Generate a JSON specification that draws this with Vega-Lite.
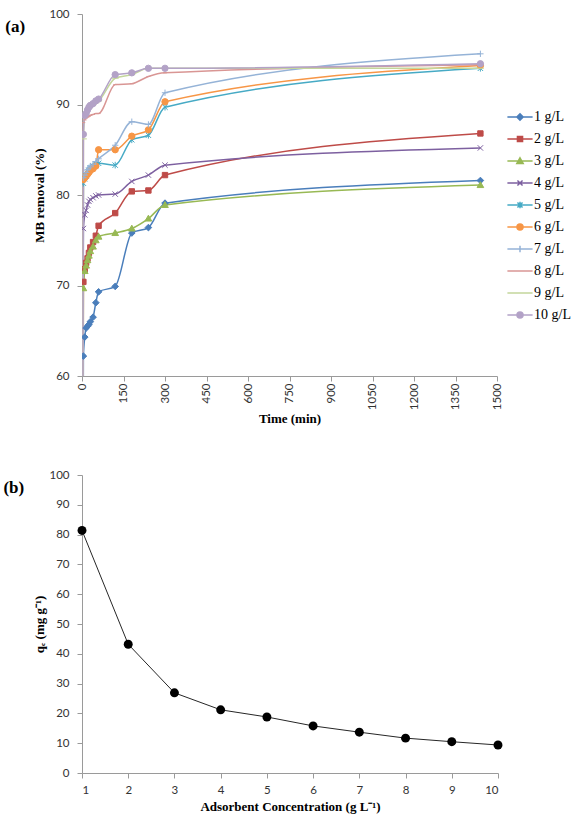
{
  "$schema": "https://vega.github.io/schema/vega-lite/v6.json",
  "background": "white",
  "padding": {"left": 3, "top": 8, "right": 0, "bottom": 0},
  "config": {
    "view": {"stroke": null},
    "axis": {
      "grid": false,
      "domainColor": "#9a9a9a",
      "tickColor": "#9a9a9a",
      "tickSize": 5,
      "labelFont": "Lato",
      "labelFontSize": 11.5,
      "labelColor": "#333333",
      "labelPadding": 8,
      "titleFont": "Liberation Serif",
      "titleFontWeight": "bold",
      "titleFontSize": 13,
      "titleColor": "#000000"
    },
    "legend": {
      "title": null,
      "orient": "none",
      "padding": 0,
      "labelFont": "Liberation Serif",
      "labelFontSize": 14,
      "labelColor": "#000000",
      "symbolStrokeWidth": 1.5,
      "symbolOpacity": 1
    },
    "title": {"font": "Liberation Serif", "fontWeight": "bold", "fontSize": 17, "color": "#000000"},
    "concat": {"spacing": 43}
  },
  "datasets": {
    "kinetics": [
      {"t": 0, "v": 0, "s": "1 g/L"}, {"t": 5, "v": 62.2, "s": "1 g/L"}, {"t": 10, "v": 64.3, "s": "1 g/L"}, {"t": 15, "v": 65.3, "s": "1 g/L"}, {"t": 20, "v": 65.5, "s": "1 g/L"}, {"t": 25, "v": 65.7, "s": "1 g/L"}, {"t": 30, "v": 66.0, "s": "1 g/L"}, {"t": 40, "v": 66.5, "s": "1 g/L"}, {"t": 50, "v": 68.1, "s": "1 g/L"}, {"t": 60, "v": 69.3, "s": "1 g/L"}, {"t": 120, "v": 69.9, "s": "1 g/L"}, {"t": 180, "v": 75.8, "s": "1 g/L"}, {"t": 240, "v": 76.4, "s": "1 g/L"}, {"t": 300, "v": 79.1, "s": "1 g/L"}, {"t": 1440, "v": 81.6, "s": "1 g/L"},
      {"t": 0, "v": 0, "s": "2 g/L"}, {"t": 5, "v": 70.4, "s": "2 g/L"}, {"t": 10, "v": 71.8, "s": "2 g/L"}, {"t": 15, "v": 72.5, "s": "2 g/L"}, {"t": 20, "v": 73.0, "s": "2 g/L"}, {"t": 25, "v": 73.6, "s": "2 g/L"}, {"t": 30, "v": 74.2, "s": "2 g/L"}, {"t": 40, "v": 74.8, "s": "2 g/L"}, {"t": 50, "v": 75.5, "s": "2 g/L"}, {"t": 60, "v": 76.6, "s": "2 g/L"}, {"t": 120, "v": 78.0, "s": "2 g/L"}, {"t": 180, "v": 80.4, "s": "2 g/L"}, {"t": 240, "v": 80.5, "s": "2 g/L"}, {"t": 300, "v": 82.2, "s": "2 g/L"}, {"t": 1440, "v": 86.8, "s": "2 g/L"},
      {"t": 0, "v": 0, "s": "3 g/L"}, {"t": 5, "v": 69.7, "s": "3 g/L"}, {"t": 10, "v": 71.6, "s": "3 g/L"}, {"t": 15, "v": 72.2, "s": "3 g/L"}, {"t": 20, "v": 72.8, "s": "3 g/L"}, {"t": 25, "v": 73.3, "s": "3 g/L"}, {"t": 30, "v": 73.8, "s": "3 g/L"}, {"t": 40, "v": 74.3, "s": "3 g/L"}, {"t": 50, "v": 75.0, "s": "3 g/L"}, {"t": 60, "v": 75.4, "s": "3 g/L"}, {"t": 120, "v": 75.8, "s": "3 g/L"}, {"t": 180, "v": 76.3, "s": "3 g/L"}, {"t": 240, "v": 77.4, "s": "3 g/L"}, {"t": 300, "v": 78.9, "s": "3 g/L"}, {"t": 1440, "v": 81.1, "s": "3 g/L"},
      {"t": 0, "v": 0, "s": "4 g/L"}, {"t": 5, "v": 76.3, "s": "4 g/L"}, {"t": 10, "v": 77.8, "s": "4 g/L"}, {"t": 15, "v": 78.3, "s": "4 g/L"}, {"t": 20, "v": 78.9, "s": "4 g/L"}, {"t": 25, "v": 79.3, "s": "4 g/L"}, {"t": 30, "v": 79.5, "s": "4 g/L"}, {"t": 40, "v": 79.7, "s": "4 g/L"}, {"t": 50, "v": 79.9, "s": "4 g/L"}, {"t": 60, "v": 80.0, "s": "4 g/L"}, {"t": 120, "v": 80.1, "s": "4 g/L"}, {"t": 180, "v": 81.5, "s": "4 g/L"}, {"t": 240, "v": 82.2, "s": "4 g/L"}, {"t": 300, "v": 83.3, "s": "4 g/L"}, {"t": 1440, "v": 85.2, "s": "4 g/L"},
      {"t": 0, "v": 0, "s": "5 g/L"}, {"t": 5, "v": 81.3, "s": "5 g/L"}, {"t": 10, "v": 81.8, "s": "5 g/L"}, {"t": 15, "v": 82.1, "s": "5 g/L"}, {"t": 20, "v": 82.4, "s": "5 g/L"}, {"t": 25, "v": 82.7, "s": "5 g/L"}, {"t": 30, "v": 83.0, "s": "5 g/L"}, {"t": 40, "v": 83.2, "s": "5 g/L"}, {"t": 50, "v": 83.4, "s": "5 g/L"}, {"t": 60, "v": 83.5, "s": "5 g/L"}, {"t": 120, "v": 83.3, "s": "5 g/L"}, {"t": 180, "v": 86.1, "s": "5 g/L"}, {"t": 240, "v": 86.6, "s": "5 g/L"}, {"t": 300, "v": 89.7, "s": "5 g/L"}, {"t": 1440, "v": 94.0, "s": "5 g/L"},
      {"t": 0, "v": 0, "s": "6 g/L"}, {"t": 5, "v": 81.7, "s": "6 g/L"}, {"t": 10, "v": 81.9, "s": "6 g/L"}, {"t": 15, "v": 82.1, "s": "6 g/L"}, {"t": 20, "v": 82.3, "s": "6 g/L"}, {"t": 25, "v": 82.5, "s": "6 g/L"}, {"t": 30, "v": 82.7, "s": "6 g/L"}, {"t": 40, "v": 82.9, "s": "6 g/L"}, {"t": 50, "v": 83.2, "s": "6 g/L"}, {"t": 60, "v": 85.0, "s": "6 g/L"}, {"t": 120, "v": 85.0, "s": "6 g/L"}, {"t": 180, "v": 86.5, "s": "6 g/L"}, {"t": 240, "v": 87.2, "s": "6 g/L"}, {"t": 300, "v": 90.3, "s": "6 g/L"}, {"t": 1440, "v": 94.3, "s": "6 g/L"},
      {"t": 0, "v": 0, "s": "7 g/L"}, {"t": 5, "v": 81.9, "s": "7 g/L"}, {"t": 10, "v": 82.2, "s": "7 g/L"}, {"t": 15, "v": 82.5, "s": "7 g/L"}, {"t": 20, "v": 82.8, "s": "7 g/L"}, {"t": 25, "v": 83.0, "s": "7 g/L"}, {"t": 30, "v": 83.2, "s": "7 g/L"}, {"t": 40, "v": 83.4, "s": "7 g/L"}, {"t": 50, "v": 83.7, "s": "7 g/L"}, {"t": 60, "v": 84.0, "s": "7 g/L"}, {"t": 120, "v": 85.5, "s": "7 g/L"}, {"t": 180, "v": 88.1, "s": "7 g/L"}, {"t": 240, "v": 87.8, "s": "7 g/L"}, {"t": 300, "v": 91.3, "s": "7 g/L"}, {"t": 1440, "v": 95.6, "s": "7 g/L"},
      {"t": 0, "v": 0, "s": "8 g/L"}, {"t": 5, "v": 88.0, "s": "8 g/L"}, {"t": 10, "v": 88.3, "s": "8 g/L"}, {"t": 15, "v": 88.5, "s": "8 g/L"}, {"t": 20, "v": 88.6, "s": "8 g/L"}, {"t": 25, "v": 88.7, "s": "8 g/L"}, {"t": 30, "v": 88.8, "s": "8 g/L"}, {"t": 40, "v": 88.9, "s": "8 g/L"}, {"t": 50, "v": 89.0, "s": "8 g/L"}, {"t": 60, "v": 89.0, "s": "8 g/L"}, {"t": 120, "v": 92.2, "s": "8 g/L"}, {"t": 180, "v": 92.3, "s": "8 g/L"}, {"t": 240, "v": 93.1, "s": "8 g/L"}, {"t": 300, "v": 93.5, "s": "8 g/L"}, {"t": 1440, "v": 94.4, "s": "8 g/L"},
      {"t": 0, "v": 0, "s": "9 g/L"}, {"t": 5, "v": 86.2, "s": "9 g/L"}, {"t": 10, "v": 88.8, "s": "9 g/L"}, {"t": 15, "v": 89.1, "s": "9 g/L"}, {"t": 20, "v": 89.4, "s": "9 g/L"}, {"t": 25, "v": 89.6, "s": "9 g/L"}, {"t": 30, "v": 89.8, "s": "9 g/L"}, {"t": 40, "v": 90.0, "s": "9 g/L"}, {"t": 50, "v": 90.2, "s": "9 g/L"}, {"t": 60, "v": 90.4, "s": "9 g/L"}, {"t": 120, "v": 92.9, "s": "9 g/L"}, {"t": 180, "v": 93.3, "s": "9 g/L"}, {"t": 240, "v": 94.0, "s": "9 g/L"}, {"t": 300, "v": 94.0, "s": "9 g/L"}, {"t": 1440, "v": 94.0, "s": "9 g/L"},
      {"t": 0, "v": 0, "s": "10 g/L"}, {"t": 5, "v": 86.7, "s": "10 g/L"}, {"t": 10, "v": 88.8, "s": "10 g/L"}, {"t": 15, "v": 89.0, "s": "10 g/L"}, {"t": 20, "v": 89.4, "s": "10 g/L"}, {"t": 25, "v": 89.7, "s": "10 g/L"}, {"t": 30, "v": 89.9, "s": "10 g/L"}, {"t": 40, "v": 90.1, "s": "10 g/L"}, {"t": 50, "v": 90.4, "s": "10 g/L"}, {"t": 60, "v": 90.6, "s": "10 g/L"}, {"t": 120, "v": 93.3, "s": "10 g/L"}, {"t": 180, "v": 93.5, "s": "10 g/L"}, {"t": 240, "v": 94.0, "s": "10 g/L"}, {"t": 300, "v": 94.0, "s": "10 g/L"}, {"t": 1440, "v": 94.5, "s": "10 g/L"}
    ],
    "capacity": [
      {"c": 1, "q": 81.4}, {"c": 2, "q": 43.2}, {"c": 3, "q": 26.9}, {"c": 4, "q": 21.2}, {"c": 5, "q": 18.8},
      {"c": 6, "q": 15.8}, {"c": 7, "q": 13.7}, {"c": 8, "q": 11.7}, {"c": 9, "q": 10.5}, {"c": 10, "q": 9.4}
    ]
  },
  "vconcat": [
    {
      "width": 415,
      "height": 362,
      "title": {"text": "(a)", "orient": "left", "anchor": "end", "angle": 0, "align": "right", "baseline": "top", "offset": -11, "dy": 11},
      "data": {"name": "kinetics"},
      "encoding": {
        "x": {
          "field": "t", "type": "quantitative",
          "scale": {"domain": [0, 1500], "nice": false},
          "axis": {"values": [0, 150, 300, 450, 600, 750, 900, 1050, 1200, 1350, 1500], "format": "d", "labelAngle": -90, "labelPadding": 2, "title": "Time (min)", "titlePadding": 3}
        },
        "y": {
          "field": "v", "type": "quantitative",
          "scale": {"domain": [60, 100], "nice": false},
          "axis": {"values": [60, 70, 80, 90, 100], "title": "MB removal (%)", "titlePadding": 2}
        }
      },
      "layer": [
        {
          "mark": {"type": "line", "interpolate": "monotone", "strokeWidth": 1.5, "clip": true},
          "encoding": {
            "color": {
              "field": "s", "type": "nominal", "legend": null,
              "scale": {
                "domain": ["1 g/L", "2 g/L", "3 g/L", "4 g/L", "5 g/L", "6 g/L", "7 g/L", "8 g/L", "9 g/L", "10 g/L"],
                "range": ["#4A7EBB", "#BE4B48", "#98B954", "#7D60A0", "#46AAC5", "#F79646", "#95B3D7", "#D99694", "#C3D69B", "#B3A2C7"]
              }
            }
          }
        },
        {
          "mark": {"type": "point", "filled": true, "size": 40, "opacity": 1, "strokeWidth": 1, "clip": true},
          "encoding": {
            "color": {"field": "s", "type": "nominal", "legend": null},
            "shape": {
              "field": "s", "type": "nominal", "legend": null,
              "scale": {
                "domain": ["1 g/L", "2 g/L", "3 g/L", "4 g/L", "5 g/L", "6 g/L", "7 g/L", "8 g/L", "9 g/L", "10 g/L"],
                "range": ["M0,-1.05L1.05,0L0,1.05L-1.05,0Z", "M-0.85,-0.85H0.85V0.85H-0.85Z", "M0,-1.05L1.05,0.8L-1.05,0.8Z", "M-0.85,-0.85L0.85,0.85M0.85,-0.85L-0.85,0.85", "M-0.85,-0.85L0.85,0.85M0.85,-0.85L-0.85,0.85M0,-1.05L0,1.05", "circle", "M-1,0L1,0M0,-1L0,1", "M-0.6,0L0.6,0", "M-1.1,0L1.1,0", "circle"]
              }
            },
            "stroke": {
              "field": "s", "type": "nominal", "legend": null,
              "scale": {
                "domain": ["1 g/L", "2 g/L", "3 g/L", "4 g/L", "5 g/L", "6 g/L", "7 g/L", "8 g/L", "9 g/L", "10 g/L"],
                "range": ["#4A7EBB", "#BE4B48", "#98B954", "#7D60A0", "#46AAC5", "#F79646", "#95B3D7", "#D99694", "#C3D69B", "#B3A2C7"]
              }
            }
          }
        },
        {
          "transform": [{"filter": "false"}],
          "mark": {"type": "point", "filled": true, "size": 36, "opacity": 1, "strokeWidth": 1.5},
          "encoding": {
            "shape": {
              "field": "s", "type": "nominal",
              "scale": {
                "domain": ["1 g/L", "2 g/L", "3 g/L", "4 g/L", "5 g/L", "6 g/L", "7 g/L", "8 g/L", "9 g/L", "10 g/L"],
                "range": ["M-4.2,0L4.2,0M0,-1.05L1.05,0L0,1.05L-1.05,0Z", "M-4.2,0L4.2,0M-0.85,-0.85H0.85V0.85H-0.85Z", "M-4.2,0L4.2,0M0,-1.05L1.05,0.8L-1.05,0.8Z", "M-4.2,0L4.2,0M-0.85,-0.85L0.85,0.85M0.85,-0.85L-0.85,0.85", "M-4.2,0L4.2,0M-0.85,-0.85L0.85,0.85M0.85,-0.85L-0.85,0.85M0,-1.05L0,1.05", "M-4.2,0L4.2,0M1,0A1,1,0,1,1,-1,0A1,1,0,1,1,1,0Z", "M-4.2,0L4.2,0M0,-1.05L0,1.05", "M-4.2,0L4.2,0", "M-4.2,0L4.2,0", "M-4.2,0L4.2,0M1,0A1,1,0,1,1,-1,0A1,1,0,1,1,1,0Z"]
              },
              "legend": {"orient": "none", "legendX": 431, "legendY": 96, "symbolSize": 36, "rowPadding": 8, "labelOffset": 7}
            },
            "fill": {
              "field": "s", "type": "nominal",
              "scale": {
                "domain": ["1 g/L", "2 g/L", "3 g/L", "4 g/L", "5 g/L", "6 g/L", "7 g/L", "8 g/L", "9 g/L", "10 g/L"],
                "range": ["#4A7EBB", "#BE4B48", "#98B954", "#7D60A0", "#46AAC5", "#F79646", "#95B3D7", "#D99694", "#C3D69B", "#B3A2C7"]
              },
              "legend": {"orient": "none", "legendX": 431, "legendY": 96, "symbolSize": 36, "rowPadding": 8, "labelOffset": 7}
            },
            "stroke": {
              "field": "s", "type": "nominal",
              "scale": {
                "domain": ["1 g/L", "2 g/L", "3 g/L", "4 g/L", "5 g/L", "6 g/L", "7 g/L", "8 g/L", "9 g/L", "10 g/L"],
                "range": ["#4A7EBB", "#BE4B48", "#98B954", "#7D60A0", "#46AAC5", "#F79646", "#95B3D7", "#D99694", "#C3D69B", "#B3A2C7"]
              },
              "legend": {"orient": "none", "legendX": 431, "legendY": 96, "symbolSize": 36, "rowPadding": 8, "labelOffset": 7}
            }
          }
        }
      ],
      "resolve": {
        "scale": {"shape": "independent", "stroke": "independent", "fill": "independent"},
        "legend": {"shape": "independent", "stroke": "independent", "fill": "independent"}
      }
    },
    {
      "width": 416,
      "height": 298,
      "title": {"text": "(b)", "orient": "left", "anchor": "end", "angle": 0, "align": "right", "baseline": "top", "offset": -11, "dy": 11},
      "data": {"name": "capacity"},
      "encoding": {
        "x": {
          "field": "c", "type": "quantitative",
          "scale": {"domain": [1, 10], "nice": false},
          "axis": {"values": [1, 2, 3, 4, 5, 6, 7, 8, 9, 10], "labelPadding": 6, "title": "Adsorbent Concentration (g L⁻¹)", "titlePadding": 5}
        },
        "y": {
          "field": "q", "type": "quantitative",
          "scale": {"domain": [0, 100], "nice": false},
          "axis": {"values": [0, 10, 20, 30, 40, 50, 60, 70, 80, 90, 100], "title": "qₑ (mg g⁻¹)", "titlePadding": 2}
        }
      },
      "layer": [
        {"mark": {"type": "line", "color": "#262626", "strokeWidth": 1}},
        {"mark": {"type": "circle", "color": "#000000", "size": 80, "opacity": 1}}
      ]
    }
  ]
}
